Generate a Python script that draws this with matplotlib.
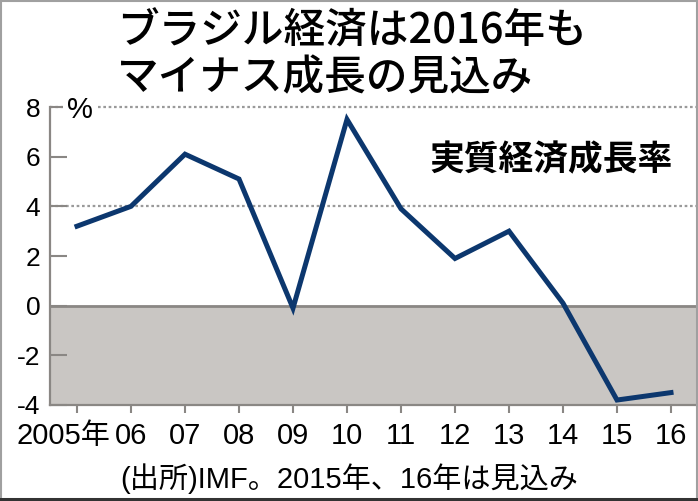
import matplotlib
matplotlib.use('Agg')
import matplotlib.pyplot as plt
import matplotlib.transforms as mtransforms
from matplotlib.patches import Rectangle

plt.rcParams['font.family'] = ['Liberation Sans', 'Noto Sans CJK JP', 'DejaVu Sans']
plt.rcParams['axes.unicode_minus'] = False

years = [2005, 2006, 2007, 2008, 2009, 2010, 2011, 2012, 2013, 2014, 2015, 2016]
growth = [3.2, 4.0, 6.1, 5.1, -0.1, 7.5, 3.9, 1.9, 3.0, 0.1, -3.8, -3.5]
year_labels = ['2005年', '06', '07', '08', '09', '10', '11', '12', '13', '14', '15', '16']
y_ticks = [-4, -2, 0, 2, 4, 6, 8]

title = 'ブラジル経済は2016年も\nマイナス成長の見込み'
series_name = '実質経済成長率'
source = '(出所)IMF。2015年、16年は見込み'

navy = '#0c376e'
grey = '#8a8784'

fig = plt.figure(figsize=(6.98, 5.01), dpi=100)
ax = fig.add_axes([50 / 698, 96 / 501, 648 / 698, 298 / 501])

ax.set_xlim(2004.5, 2016.5)
ax.set_ylim(-4, 8)

# negative zone
ax.axhspan(-4, 0, color='#c9c6c3', zorder=0)
ax.axhline(0, color=grey, lw=2, zorder=1)
for g in [4, 8]:
    ax.axhline(g, color='#9a9a9a', lw=1.6, ls=(0, (1.2, 1.2)), zorder=1, clip_on=False)

ax.plot(years, growth, color=navy, lw=3.6, solid_joinstyle='miter', zorder=3)

for s in ['top', 'right']:
    ax.spines[s].set_visible(False)
for s in ['left', 'bottom']:
    ax.spines[s].set_color(grey)
    ax.spines[s].set_linewidth(1.6)

ax.set_yticks(y_ticks)
ax.set_yticklabels([str(v) for v in y_ticks])
ax.tick_params(axis='y', direction='in', length=12, width=1.5, color=grey,
               labelsize=19, pad=7)
ax.set_xticks(years)
ax.set_xticklabels(year_labels)
ax.tick_params(axis='x', direction='out', length=6, width=1.5, color=grey,
               labelsize=21, pad=6)
# first label hangs left of its tick
lab0 = ax.get_xticklabels()[0]
lab0.set_transform(lab0.get_transform() + mtransforms.ScaledTranslation(-14 / 100, 0, fig.dpi_scale_trans))

ax.text(0.027, 0.99, '%', transform=ax.transAxes, fontsize=21, ha='left', va='center',
        bbox=dict(facecolor='white', edgecolor='none', pad=3), zorder=4)
ax.text(0.773, 0.822, series_name, transform=ax.transAxes, fontsize=25,
        fontweight='bold', ha='center', va='center', family=['Noto Sans CJK JP'])

fig.text(117 / 698, 1 - 10 / 501, title, fontsize=30, fontweight='medium', ha='left',
         va='top', linespacing=1.1, family=['Noto Sans CJK JP'])
fig.text(349 / 698, 1 - 479 / 501, source, fontsize=21, ha='center', va='center')

# frame round the picture
fig.patches.append(Rectangle((0.002, 0.004), 0.996, 0.994, transform=fig.transFigure,
                             fill=False, edgecolor='#a0a0a0', lw=1.5))
fig.patches.append(Rectangle((0, 0), 1, 0.006, transform=fig.transFigure,
                             color='#333333', lw=0))

fig.savefig('out.png', dpi=100)
